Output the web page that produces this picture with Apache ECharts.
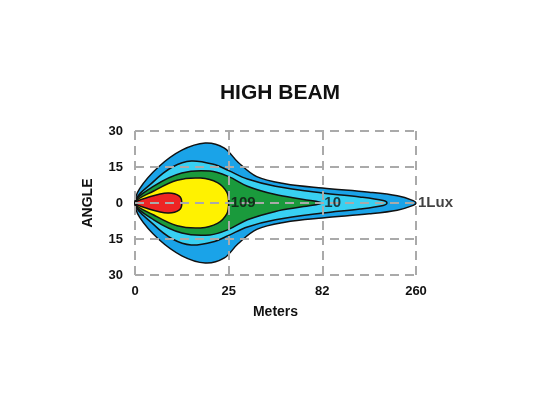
<!DOCTYPE html>
<html>
<head>
<meta charset="utf-8">
<script src="https://cdn.jsdelivr.net/npm/echarts@6/dist/echarts.min.js"></script>
<style>html,body{margin:0;background:#fff}#main{width:560px;height:420px}</style>
</head>
<body>
<div id="main"></div>
<script>
var xLabels = ['0', '25', '82', '260'];
var yTicks = [-30, -15, 0, 15, 30];
// upper halves of the iso-lux contours: [x position, angle]
var lux1 = [[0,0],[0.05,6],[0.25,15],[0.5,22],[0.75,25],[0.95,23],[1.1,17],[1.3,11],[1.6,8],[2,6.2],[2.5,4.5],[2.8,3],[2.97,1],[3,0]];
var lux3 = [[0,0],[0.2,9],[0.4,15],[0.6,17.5],[0.85,16],[1,13.5],[1.2,10],[1.5,7],[2,4.2],[2.4,2.5],[2.65,1],[2.69,0]];
var lux10 = [[0,0],[0.2,7],[0.5,12.5],[0.8,13.3],[1,11],[1.2,7],[1.5,3.5],[1.8,1.5],[2,0]];
var lux109 = [[0,0],[0.2,5],[0.45,9.5],[0.7,10.4],[0.88,8.5],[0.98,4.5],[1,0]];
var luxMax = [[0,0],[0.15,2.5],[0.35,4.2],[0.47,3],[0.5,0]];
var labelPoints = [[1, 0, '109'], [2, 0, '10'], [3, 0, '1Lux']];

function contour(pts, color) {
    return {
        type: 'custom',
        z: 1,
        data: [0],
        renderItem: function (params, api) {
            var up = pts.map(function (p) { return api.coord([p[0], p[1]]); });
            var down = pts.slice().reverse().map(function (p) { return api.coord([p[0], -p[1]]); });
            return {
                type: 'polygon',
                shape: { points: up.concat(down.slice(1, -1)), smooth: 0.35 },
                style: { fill: color, stroke: '#111', lineWidth: 1.5 }
            };
        }
    };
}

var chart = echarts.init(document.getElementById('main'));
var dash = { show: true, lineStyle: { color: '#aaa', type: [9, 6], width: 2 } };
chart.setOption({
    animation: false,
    title: { text: 'HIGH BEAM', left: 'center', leftOffset: 0, top: 78,
        textStyle: { fontFamily: 'Arial', fontSize: 21, fontWeight: 'bold', color: '#111' } },
    grid: { left: 135, right: 144, top: 131, bottom: 145 },
    xAxis: {
        type: 'value', min: 0, max: 3, interval: 1, z: 10,
        name: 'Meters', nameLocation: 'middle', nameGap: 30,
        nameTextStyle: { fontFamily: 'Arial', fontSize: 14, fontWeight: 'bold', color: '#111' },
        axisLine: { show: false }, axisTick: { show: false },
        splitLine: dash,
        axisLabel: { formatter: function (v) { return xLabels[v]; }, fontFamily: 'Arial', fontSize: 13, fontWeight: 'bold', color: '#111', margin: 10 }
    },
    yAxis: {
        type: 'value', min: yTicks[0], max: yTicks[4], interval: 15, z: 10,
        name: 'ANGLE', nameLocation: 'middle', nameGap: 40,
        nameTextStyle: { fontFamily: 'Arial', fontSize: 14, fontWeight: 'bold', color: '#111' },
        axisLine: { show: false }, axisTick: { show: false },
        splitLine: dash,
        axisLabel: { formatter: function (v) { return Math.abs(v); }, fontFamily: 'Arial', fontSize: 13, fontWeight: 'bold', color: '#111', margin: 12 }
    },
    series: [
        contour(lux1, '#1aa3e8'),
        contour(lux3, '#38d0f2'),
        contour(lux10, '#1a9a3c'),
        contour(lux109, '#fff200'),
        contour(luxMax, '#ee2424'),
        {
            type: 'scatter', z: 12, symbolSize: 0, data: labelPoints,
            label: { show: true, position: 'right', distance: 2, formatter: function (p) { return p.data[2]; },
                fontFamily: 'Arial', fontWeight: 'bold', fontSize: 15, color: '#111' }
        }
    ]
});
</script>
</body>
</html>
